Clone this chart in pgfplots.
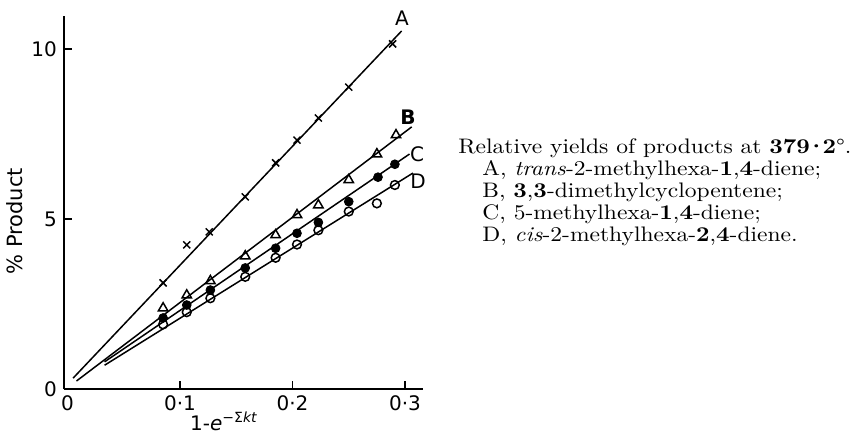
\documentclass[border=0pt]{standalone}
\usepackage{fontspec}
\usepackage{pgfplots}
\pgfplotsset{compat=1.18}
\newfontfamily\lab{DejaVu Sans}
\newfontfamily\txt{Latin Modern Roman}[FakeStretch=1.12]
\newcommand{\cd}{\kern-.2em·\kern-.2em}
\begin{document}
\begin{tikzpicture}
\begin{axis}[
  at={(0pt,0pt)}, anchor=south west,
  scale only axis, width=179.5pt, height=186.5pt,
  xmin=-0.0031, xmax=0.316, ymin=0, ymax=10.97,
  axis lines=left, axis line style={-, line width=0.75pt},
  xtick={0.1,0.2,0.3}, xticklabels={0·1,0·2,0·3},
  ytick={5,10}, yticklabels={5,10},
  extra x ticks={0}, extra x tick labels={0},
  extra y ticks={0}, extra y tick labels={0},
  extra tick style={major tick length=0pt},
  tick align=inside, major tick length=4pt,
  tick style={line width=0.75pt, black},
  ticklabel style={font=\lab\fontsize{10}{12}\selectfont},
  xlabel={1-\textit{e}\textsuperscript{−Σ\textit{kt}}},
  xlabel style={at={(axis description cs:0.446,0)}, anchor=base, yshift=-20.5pt, font=\lab\fontsize{10}{12}\selectfont},
  ylabel={\% Product},
  ylabel style={at={(axis description cs:-0.137,0.45)}, anchor=center, font=\lab\fontsize{10.5}{12}\selectfont},
  clip=false,
]
% fitted lines
\addplot[no marks, line width=0.75pt] coordinates {(0.005,0.32) (0.297,10.53)};
\addplot[no marks, line width=0.75pt] coordinates {(0.008,0.235) (0.306,7.71)};
\addplot[no marks, line width=0.75pt] coordinates {(0.033,0.80) (0.304,6.91)};
\addplot[no marks, line width=0.75pt] coordinates {(0.033,0.70) (0.307,6.35)};
% A: crosses
\addplot[only marks, mark=x, mark size=2.5pt, line width=0.75pt] coordinates {
  (0.085,3.12) (0.106,4.24) (0.126,4.62) (0.158,5.65) (0.185,6.65)
  (0.204,7.32) (0.223,7.97) (0.250,8.88) (0.289,10.15)};
% B: open triangles
\addplot[only marks, mark=triangle, mark size=2.7pt, line width=0.75pt] coordinates {
  (0.085,2.38) (0.106,2.76) (0.127,3.18) (0.158,3.91) (0.185,4.53)
  (0.204,5.12) (0.223,5.41) (0.250,6.15) (0.275,6.91) (0.292,7.47)};
% C: filled circles
\addplot[only marks, mark=*, mark size=2.2pt, fill=black] coordinates {
  (0.085,2.09) (0.106,2.47) (0.127,2.91) (0.158,3.56) (0.185,4.14)
  (0.204,4.58) (0.223,4.90) (0.250,5.51) (0.276,6.23) (0.291,6.61)};
% D: open circles
\addplot[only marks, mark=o, mark size=2.2pt, line width=0.75pt, mark options={fill=white}] coordinates {
  (0.085,1.90) (0.106,2.26) (0.127,2.67) (0.158,3.30) (0.185,3.86)
  (0.204,4.25) (0.223,4.67) (0.250,5.22) (0.275,5.46) (0.291,6.00)};
\node[font=\lab\fontsize{10}{12}\selectfont] at (axis cs:0.2973,10.91) {A};
\node[font=\lab\bfseries\fontsize{10}{12}\selectfont] at (axis cs:0.3027,8.0) {B};
\node[font=\lab\fontsize{10}{12}\selectfont] at (axis cs:0.3107,6.91) {C};
\node[font=\lab\fontsize{10}{12}\selectfont] at (axis cs:0.3116,6.12) {D};
\end{axis}
\begin{scope}[every node/.style={anchor=base west, inner sep=0pt, font=\txt\fontsize{10.5}{12}\selectfont}]
\node at (197pt,118pt) {Relative yields of products at \textbf{379\cd2}°.};
\node at (209pt,107pt) {A, \textit{trans}-2-methylhexa-\textbf{1},\textbf{4}-diene;};
\node at (209pt,96pt) {B, \textbf{3},\textbf{3}-dimethylcyclopentene;};
\node at (209pt,85pt) {C, 5-methylhexa-\textbf{1},\textbf{4}-diene;};
\node at (209pt,74pt) {D, \textit{cis}-2-methylhexa-\textbf{2},\textbf{4}-diene.};
\end{scope}
\pgfresetboundingbox
\path[use as bounding box] (-32pt,-26pt) rectangle (396.5pt,194.5pt);
\end{tikzpicture}
\end{document}
